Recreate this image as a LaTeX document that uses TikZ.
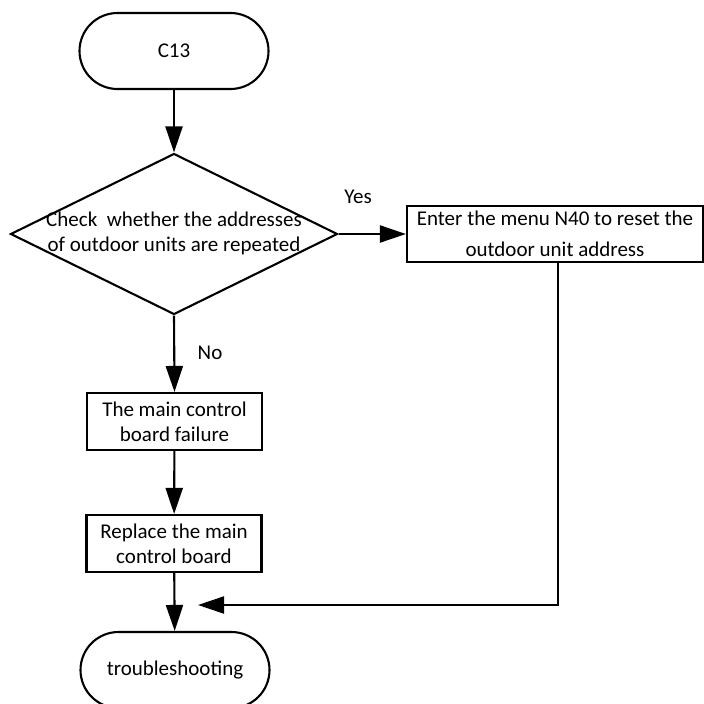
\documentclass[tikz,border=0pt]{standalone}
\usepackage{fontspec}
\setmainfont{Carlito}
\usetikzlibrary{arrows.meta,positioning,shapes.geometric}

\begin{document}
\begin{tikzpicture}[x=1pt, y=-1pt,
      every node/.style={font=\fontsize{21}{25}\selectfont},
      term/.style={draw, line width=2.1pt, rounded corners=38pt, minimum width=189pt, minimum height=76pt, inner sep=0pt},
      stepbox/.style={draw, line width=2.1pt, minimum width=175pt, minimum height=57pt, align=center, inner sep=0pt},
      decide/.style={draw, diamond, line width=2.1pt, minimum width=327pt, minimum height=161pt, inner sep=0pt},
      flow/.style={line width=2.1pt, -{Triangle[length=26pt,width=17pt]}}
    ]
      \useasboundingbox (0,0) rectangle (704,704);

      % Terminals
      \node[term] (start) at (174,51) {C13};
      \node[term] (finish) at (175,670) {troubleshooting};

      % Decision
      \node[decide] (check) at (174,234) {\makebox[0pt]{\begin{tabular}{@{}c@{}}Check~ whether the addresses\\of outdoor units are repeated\end{tabular}}};

      % Process boxes
      \node[stepbox, minimum width=296pt, minimum height=56pt, font=\fontsize{21}{31}\selectfont] (reset) at (555,234) {Enter the menu N40 to reset the\\outdoor unit address};
      \node[stepbox] (fail) at (174.5,421.5) {The main control\\board failure};
      \node[stepbox] (replace) at (174,543.5) {Replace the main\\control board};

      % Branch labels
      \node (yes) at (358,197) {Yes};
      \node (no) at (210,353) {No};

      % Connectors
      \coordinate (join) at (198,605);
      \draw[flow] (start) -- (check);
      \draw[flow] (check.east) -- (reset.west);
      \draw[flow] (check.south) -- (fail.north);
      \draw[flow] (fail) -- (replace);
      \draw[flow] (replace) -- (finish);
      \draw[flow] ([xshift=3pt]reset.south) |- (join);
    \end{tikzpicture}
\end{document}
